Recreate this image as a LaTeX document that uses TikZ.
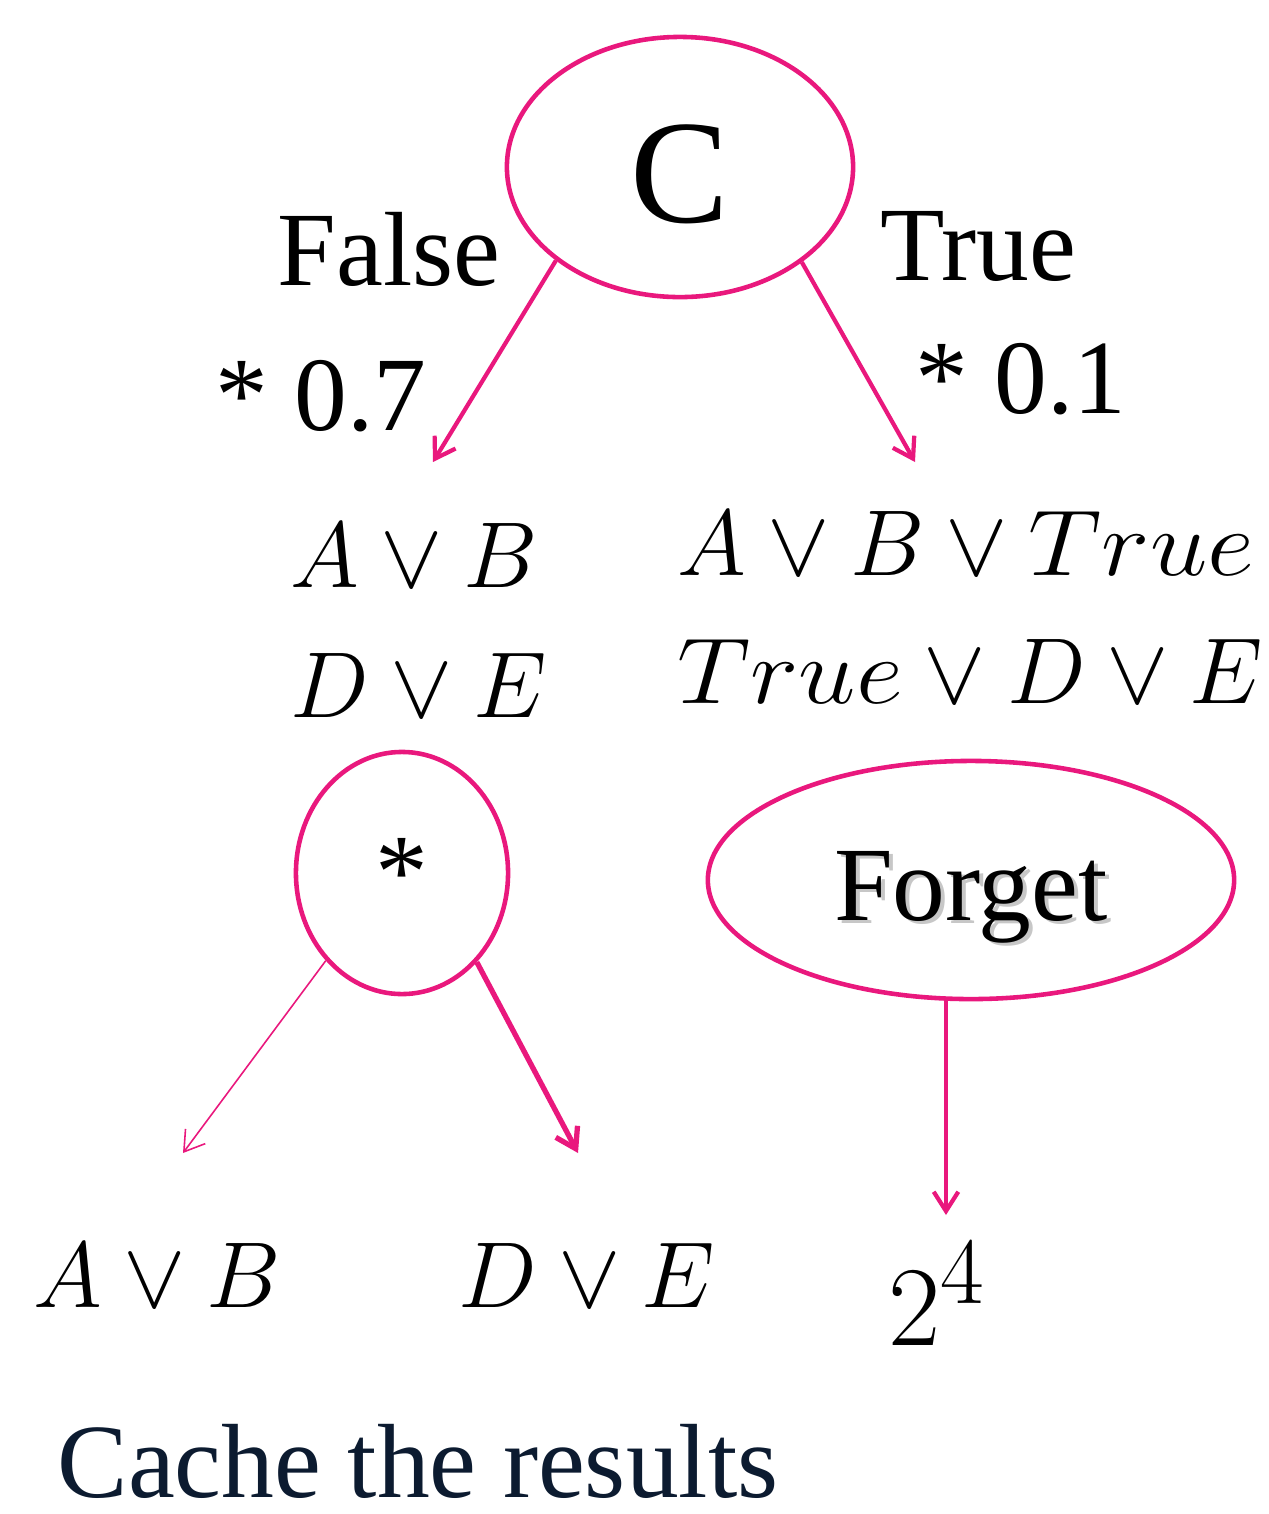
\documentclass[tikz,border=0pt]{standalone}
\usepackage{graphicx}
\usepackage{fontspec}
\setmainfont{Liberation Serif}
\usetikzlibrary{arrows.meta, shapes.geometric}
\definecolor{cmag}{RGB}{233,24,125}
\definecolor{cnavy}{RGB}{12,27,48}
\newcommand{\softshadow}[1]{\makebox[0pt][l]{\kern1.1pt\raisebox{-1.1pt}{\textcolor{black!22}{#1}}}#1}
\newcommand{\fml}[1]{\scalebox{1.07}{$#1$}}
\newcommand{\tru}{\scalebox{1.1}[1]{$True$}}

\begin{document}
\begin{tikzpicture}[x=0.01cm, y=-0.01cm,
                  oval/.style={draw=cmag, line width=1.3pt, ellipse, inner sep=0pt},
                  lbl/.style={anchor=base west, inner sep=0pt, font=\fontsize{30}{36}\selectfont},
                  formula/.style={lbl, font=\fontsize{24.88}{30}\selectfont},
                  arr/.style={-{Straight Barb[length=5.5pt,width=7pt]}, draw=cmag, line width=1.2pt},
                  thinarr/.style={arr, line width=0.45pt},
                  thickarr/.style={arr, line width=1.5pt},
            ]
            \useasboundingbox (0,0) rectangle (1269,1514);

            % Top: condition on C
            \node[oval, minimum width=3.46cm, minimum height=2.6cm, text height=1.3cm, text depth=0.2cm,
                  font=\fontsize{42}{48}\selectfont] (c) at (680,167) {C};
            \node[lbl] (false) at (277,285) {False};
            \node[lbl] (true) at (880,280) {True};
            \node[lbl] (wfalse) at (215,430) {* 0.7};
            \node[lbl] (wtrue) at (915,413) {* 0.1};

            \coordinate (tipf) at (433,462);
            \coordinate (tipt) at (915,462);
            \draw[arr] (c.217.7) -- (tipf);
            \draw[arr] (c.322.8) -- (tipt);

            % Row 2: simplified formulas
            \node[formula] (fab) at (290,587) {\fml{A \vee B}};
            \node[formula] (fde) at (290,717) {\fml{D \vee E}};
            \node[formula] (tab) at (677,575) {\fml{A \vee B \vee \tru}};
            \node[formula] (tde) at (677,703) {\fml{\tru \vee D \vee E}};

            % Row 3: split into components / forget
            \node[oval, minimum width=2.12cm, minimum height=2.42cm, font=\fontsize{30}{36}\selectfont]
                  (prod) at (402,873) {*};
            \node[oval, minimum width=5.26cm, minimum height=2.38cm, text height=1.0cm, text depth=0.2cm,
                  font=\fontsize{30}{36}\selectfont] (forget) at (971,880) {\softshadow{Forget}};

            \coordinate (tipab) at (183,1153);
            \coordinate (tipde) at (578,1153);
            \coordinate (tippow) at (946,1215);
            \draw[thinarr] (prod.229.2) -- (tipab);
            \draw[thickarr] (prod.310.8) -- (tipde);
            \draw[arr] (forget.south -| tippow) -- (tippow);

            % Row 4: results
            \node[formula] (ab) at (33,1307) {\fml{A \vee B}};
            \node[formula] (de) at (458,1307) {\fml{D \vee E}};
            \node[formula] (pow) at (888,1345) {\scalebox{1.3}{$2^4$}};

            \node[lbl, text=cnavy, text depth=0pt] (cache) at (57,1497) {Cache the results};

      \end{tikzpicture}
\end{document}
